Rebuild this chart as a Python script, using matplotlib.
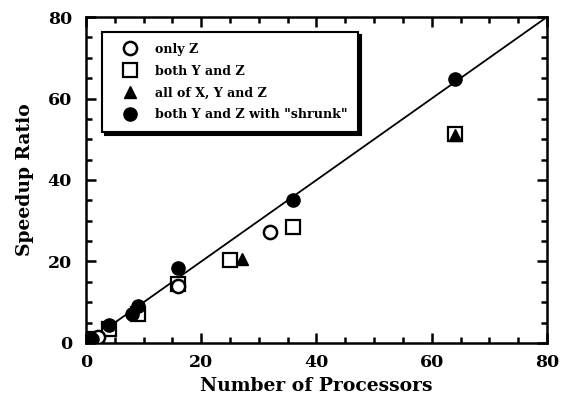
import numpy as np
import matplotlib.pyplot as plt
from matplotlib.ticker import MultipleLocator

# data
only_z_x = [1, 2, 16, 32]
only_z_y = [1, 1.5, 14, 27.3]
both_yz_x = [1, 4, 9, 16, 25, 36, 64]
both_yz_y = [1, 3.5, 7, 14.6, 20.4, 28.4, 51.4]
all_xyz_x = [1, 27, 64]
all_xyz_y = [1, 20.7, 51.0]
shrunk_x = [1, 4, 8, 9, 16, 36, 64]
shrunk_y = [1, 4.5, 7, 9, 18.3, 35, 64.8]
ideal = [0, 80]

plt.rcParams['font.family'] = ['DejaVu Serif']
plt.rcParams['font.weight'] = 'bold'

fig = plt.figure(figsize=(5.69, 4.03), dpi=100)
ax = fig.add_axes([0.1511, 0.1489, 0.8102, 0.8089])

ax.plot(ideal, ideal, color='black', lw=1.3, zorder=1)
ax.plot(only_z_x, only_z_y, 'o', ms=9.5, mfc='white', mec='black', mew=1.8, label='only Z', zorder=3)
ax.plot(both_yz_x, both_yz_y, 's', ms=10, mfc='white', mec='black', mew=1.6, label='both Y and Z', zorder=2)
ax.plot(all_xyz_x, all_xyz_y, '^', ms=8, mfc='black', mec='black', label='all of X, Y and Z', zorder=4)
ax.plot(shrunk_x, shrunk_y, 'o', ms=9.5, mfc='black', mec='black', label='both Y and Z with "shrunk"', zorder=5)

ax.set_xlim(0, 80)
ax.set_ylim(0, 80)
ax.xaxis.set_major_locator(MultipleLocator(20))
ax.yaxis.set_major_locator(MultipleLocator(20))
ax.xaxis.set_minor_locator(MultipleLocator(5))
ax.yaxis.set_minor_locator(MultipleLocator(5))
ax.tick_params(which='both', direction='in', top=True, right=True, width=1.8)
ax.tick_params(which='major', length=7, labelsize=12.5)
ax.tick_params(axis='x', which='major', pad=8)
ax.tick_params(axis='y', which='major', pad=10)
ax.tick_params(which='minor', length=4)
for s in ax.spines.values():
    s.set_linewidth(1.8)

ax.set_xlabel('Number of Processors', fontsize=13.5, fontweight='bold', labelpad=4)
ax.set_ylabel('Speedup Ratio', fontsize=13.5, fontweight='bold', labelpad=10)

leg = ax.legend(loc='upper left', bbox_to_anchor=(0.035, 0.954), borderaxespad=0, fontsize=9.1,
                frameon=True, fancybox=False, shadow={'color': 'black', 'alpha': 1}, edgecolor='black',
                handletextpad=0.6, borderpad=0.85, labelspacing=0.7, handlelength=2.7)
leg.get_frame().set_linewidth(1.5)

plt.savefig('out.png', dpi=100)
